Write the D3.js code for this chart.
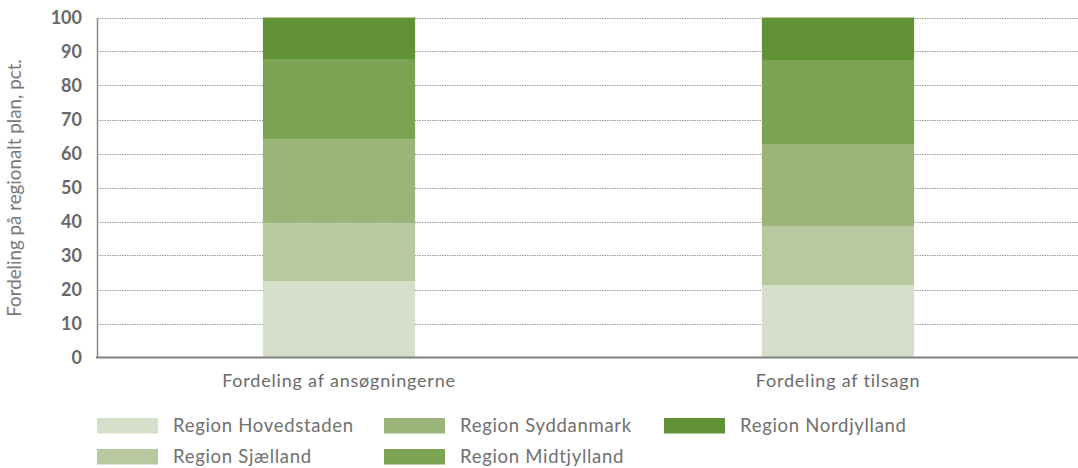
<!DOCTYPE html>
<html><head><meta charset="utf-8">
<script src="https://cdn.jsdelivr.net/npm/d3@7"></script>
<style>body{margin:0;background:#fff}svg{display:block}</style>
</head><body>
<svg id="c" width="1078" height="468"></svg>
<script>
const categories = ["Fordeling af ansøgningerne", "Fordeling af tilsagn"];
const seriesNames = ["Region Hovedstaden", "Region Sjælland", "Region Syddanmark", "Region Midtjylland", "Region Nordjylland"];
const hovedstaden = [22.5, 21.3];
const sjaelland = [17.1, 17.4];
const syddanmark = [24.5, 24.1];
const midtjylland = [23.7, 24.7];
const nordjylland = [12.2, 12.5];
const yTicks = [0, 10, 20, 30, 40, 50, 60, 70, 80, 90, 100];
const colors = ["#d6dfc9", "#b7c99f", "#9ab479", "#7ca254", "#619235"];

const seriesVals = [hovedstaden, sjaelland, syddanmark, midtjylland, nordjylland];
const rows = categories.map((c, i) => {
  const r = {cat: c};
  seriesNames.forEach((s, j) => r[s] = seriesVals[j][i]);
  return r;
});
const stack = d3.stack().keys(seriesNames)(rows);

const svg = d3.select("#c");
const font = "Lato, 'Open Sans', sans-serif";
const y = d3.scaleLinear().domain([0, 100]).range([357.5, 17.5]);
const x = d3.scaleBand().domain(categories).range([89.5, 1087.5]).paddingInner(0.695).paddingOuter(0.3475);
const left = 97, right = 1078;

// gridlines
svg.append("g").selectAll("line").data(yTicks.filter(t => t > 0)).join("line")
  .attr("x1", left).attr("x2", right)
  .attr("y1", d => Math.round(y(d)) + 0.5).attr("y2", d => Math.round(y(d)) + 0.5)
  .attr("stroke", "#9a9a9a").attr("stroke-width", 1).attr("stroke-dasharray", "1.5,1");

// bars
svg.append("g").selectAll("g").data(stack).join("g")
  .attr("fill", (d, i) => colors[i])
  .selectAll("rect").data(d => d).join("rect")
  .attr("x", d => x(d.data.cat))
  .attr("width", x.bandwidth())
  .attr("y", d => y(d[1]))
  .attr("height", d => y(d[0]) - y(d[1]));

// y axis
const ya = svg.append("g").attr("transform", `translate(${left},0)`)
  .call(d3.axisLeft(y).tickValues(yTicks).tickSize(0).tickPadding(15));
ya.select(".domain").attr("stroke", "#8a8a8a").attr("stroke-width", 1.5);
ya.selectAll("text").attr("font-family", font).attr("font-weight", "bold")
  .attr("font-size", 18).attr("fill", "#686868");

// baseline
svg.append("line").attr("x1", left - 1).attr("x2", right).attr("y1", y(0)).attr("y2", y(0))
  .attr("stroke", "#808080").attr("stroke-width", 2);

// x labels
const xa = svg.append("g").attr("transform", `translate(0,${y(0)})`)
  .call(d3.axisBottom(x).tickSize(0).tickPadding(17));
xa.select(".domain").remove();
xa.selectAll("text").attr("font-family", font).attr("font-size", 18)
  .attr("letter-spacing", "0.8px").attr("fill", "#6b6b6b");

// y title
svg.append("text").attr("transform", "translate(21,188) rotate(-90)")
  .attr("text-anchor", "middle").attr("font-family", font).attr("font-size", 18.8)
  .attr("fill", "#7a7a7a").text("Fordeling på regionalt plan, pct.");

// legend
const legX = [97, 384, 664];
const legY = [418, 449];
const leg = svg.append("g").selectAll("g").data(seriesNames).join("g")
  .attr("transform", (d, i) => {
    const col = [0, 0, 1, 1, 2][i], row = [0, 1, 0, 1, 0][i];
    return `translate(${legX[col]},${legY[row]})`;
  });
leg.append("rect").attr("width", 61).attr("height", 15.5).attr("fill", (d, i) => colors[i]);
leg.append("text").attr("x", 76).attr("y", 8).attr("dy", "0.35em")
  .attr("font-family", font).attr("font-size", 18.5).attr("letter-spacing", "0.7px")
  .attr("fill", "#707070").text(d => d);
</script>
</body></html>
